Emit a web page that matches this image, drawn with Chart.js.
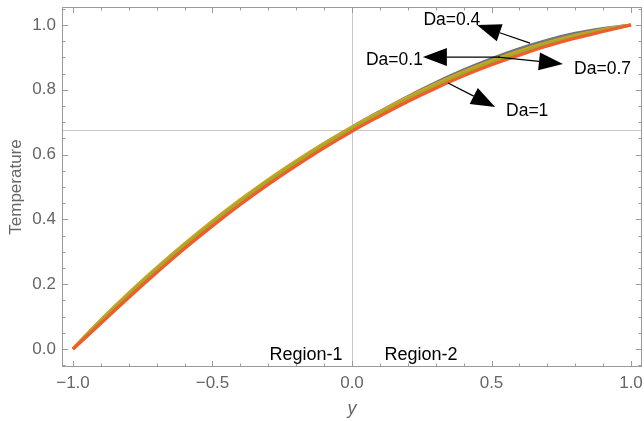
<!DOCTYPE html>
<html>
<head>
<meta charset="utf-8">
<script src="https://cdn.jsdelivr.net/npm/chart.js@4/dist/chart.umd.min.js"></script>
<style>
  body { margin: 0; background: #fff; }
  canvas { display: block; }
</style>
</head>
<body>
<canvas id="grafico" width="644" height="421"></canvas>
<script>
// Posiciones y (eje horizontal)
const posY = [-1, -0.9, -0.8, -0.7, -0.6, -0.5, -0.4, -0.3, -0.2, -0.1, 0,
              0.1, 0.2, 0.3, 0.4, 0.5, 0.6, 0.7, 0.8, 0.9, 1];

// Temperatura para cada Da
const tempDa01 = [0, 0.088, 0.171, 0.249, 0.323, 0.393, 0.459, 0.521, 0.579, 0.634, 0.685,
                  0.733, 0.779, 0.822, 0.861, 0.896, 0.927, 0.953, 0.974, 0.989, 1.0];
const tempDa04 = [0, 0.090, 0.173, 0.251, 0.325, 0.395, 0.461, 0.523, 0.581, 0.635, 0.685,
                  0.732, 0.777, 0.818, 0.856, 0.890, 0.920, 0.946, 0.968, 0.986, 1.0];
const tempDa07 = [0, 0.086, 0.168, 0.246, 0.320, 0.390, 0.456, 0.518, 0.576, 0.630, 0.680,
                  0.727, 0.772, 0.813, 0.851, 0.885, 0.915, 0.942, 0.965, 0.984, 1.0];
const tempDa1  = [0, 0.079, 0.159, 0.236, 0.310, 0.380, 0.446, 0.508, 0.566, 0.621, 0.672,
                  0.719, 0.764, 0.805, 0.843, 0.877, 0.907, 0.935, 0.959, 0.980, 1.0];

const ticksX = [-1, -0.5, 0, 0.5, 1];
const ticksT = [0, 0.2, 0.4, 0.6, 0.8, 1.0];

// Líneas guía
const guiaX = 0;
const guiaT = 0.677;

// Etiquetas con flecha: [texto, xTexto, tTexto, alineación, xCola, tCola, xPunta, tPunta]
const flechas = [
  ['Da=0.4', 0.358, 1.015, 'center', 0.638, 0.944, 0.448, 1.000],
  ['Da=0.1', 0.254, 0.892, 'right',  0.530, 0.901, 0.254, 0.901],
  ['Da=0.7', 0.796, 0.864, 'left',   0.523, 0.901, 0.756, 0.880],
  ['Da=1',   0.552, 0.735, 'left',   0.344, 0.821, 0.513, 0.747]
];
const regiones = [['Region-1', -0.165, -0.019], ['Region-2', 0.247, -0.019]];

const puntos = arr => posY.map((y, i) => ({ x: y, y: arr[i] }));
const fmt = v => (v < 0 ? '\u2212' : '') + Math.abs(v).toFixed(1);
const fuente = '"Liberation Sans", Arial, sans-serif';

const marco = {
  id: 'marco',
  beforeDatasetsDraw(chart) {
    const { ctx, chartArea: a, scales: { x, y } } = chart;
    ctx.save();
    // líneas guía
    ctx.strokeStyle = '#c8c8c8';
    ctx.lineWidth = 1;
    ctx.beginPath();
    const gx = Math.round(x.getPixelForValue(guiaX)) + 0.5;
    const gy = Math.round(y.getPixelForValue(guiaT)) + 0.5;
    ctx.moveTo(gx, a.top); ctx.lineTo(gx, a.bottom);
    ctx.moveTo(a.left, gy); ctx.lineTo(a.right, gy);
    ctx.stroke();
    ctx.restore();
  },
  afterDatasetsDraw(chart) {
    const { ctx, chartArea: a, scales: { x, y } } = chart;
    ctx.save();
    // marco y marcas
    ctx.strokeStyle = '#9a9a9a';
    ctx.lineWidth = 1;
    ctx.strokeRect(a.left + 0.5, a.top + 0.5, a.right - a.left - 1, a.bottom - a.top - 1);
    ctx.beginPath();
    for (let i = -10; i <= 10; i++) {
      const px = Math.round(x.getPixelForValue(i / 10)) + 0.5;
      const len = i % 5 === 0 ? 6 : 3.5;
      ctx.moveTo(px, a.bottom); ctx.lineTo(px, a.bottom - len);
      ctx.moveTo(px, a.top); ctx.lineTo(px, a.top + len);
    }
    for (let i = -1; i <= 21; i++) {
      const py = Math.round(y.getPixelForValue(i / 20)) + 0.5;
      const len = i % 4 === 0 ? 6 : 3.5;
      ctx.moveTo(a.left, py); ctx.lineTo(a.left + len, py);
      ctx.moveTo(a.right, py); ctx.lineTo(a.right - len, py);
    }
    ctx.stroke();

    // etiquetas de marcas
    ctx.fillStyle = '#666';
    ctx.font = '17px ' + fuente;
    ctx.textBaseline = 'middle';
    ctx.textAlign = 'center';
    ticksX.forEach(v => ctx.fillText(fmt(v), x.getPixelForValue(v), a.bottom + 16));
    ctx.textAlign = 'right';
    ticksT.forEach(v => ctx.fillText(fmt(v), a.left - 6, y.getPixelForValue(v)));

    // flechas y etiquetas
    ctx.fillStyle = '#000';
    ctx.strokeStyle = '#000';
    ctx.font = '17.5px ' + fuente;
    flechas.forEach(([txt, tx, tt, al, x0, t0, x1, t1]) => {
      const ax = x.getPixelForValue(x0), ay = y.getPixelForValue(t0);
      const bx = x.getPixelForValue(x1), by = y.getPixelForValue(t1);
      const ang = Math.atan2(by - ay, bx - ax);
      const largo = 24, ancho = 9;
      const cx = bx - largo * Math.cos(ang), cy = by - largo * Math.sin(ang);
      ctx.lineWidth = 1.2;
      ctx.beginPath();
      ctx.moveTo(ax, ay); ctx.lineTo(cx, cy);
      ctx.stroke();
      ctx.beginPath();
      ctx.moveTo(bx, by);
      ctx.lineTo(cx + ancho * Math.sin(ang), cy - ancho * Math.cos(ang));
      ctx.lineTo(cx - ancho * Math.sin(ang), cy + ancho * Math.cos(ang));
      ctx.closePath();
      ctx.fill();
      ctx.textAlign = al;
      ctx.fillText(txt, x.getPixelForValue(tx), y.getPixelForValue(tt));
    });

    ctx.font = '18px ' + fuente;
    ctx.textAlign = 'center';
    regiones.forEach(([txt, rx, rt]) => {
      ctx.fillText(txt, x.getPixelForValue(rx), y.getPixelForValue(rt));
    });

    // títulos de ejes
    ctx.fillStyle = '#666';
    ctx.font = 'italic 18px ' + fuente;
    ctx.fillText('y', x.getPixelForValue(0), a.bottom + 42);
    ctx.font = '17px ' + fuente;
    ctx.translate(16, 187);
    ctx.rotate(-Math.PI / 2);
    ctx.fillText('Temperature', 0, 0);
    ctx.restore();
  }
};

const serie = (label, data, color, orden) => ({
  label, data: puntos(data), borderColor: color, borderWidth: 3.2,
  pointRadius: 0, tension: 0.4, fill: false, order: orden
});

new Chart(document.getElementById('grafico'), {
  type: 'line',
  data: {
    datasets: [
      serie('Da=0.1', tempDa01, '#70767c', 4),
      serie('Da=0.4', tempDa04, '#dca21e', 3),
      serie('Da=0.7', tempDa07, '#9fac2c', 2),
      serie('Da=1',   tempDa1,  '#f05d2a', 1)
    ]
  },
  options: {
    responsive: false,
    animation: false,
    layout: { padding: { top: 7, right: 2, left: 0, bottom: 0 } },
    plugins: { legend: { display: false }, tooltip: { enabled: false } },
    scales: {
      x: {
        type: 'linear', min: -1.0394, max: 1.0394,
        afterFit: s => { s.height = 54; },
        grid: { display: false }, border: { display: false },
        ticks: { display: false }
      },
      y: {
        type: 'linear', min: -0.0556, max: 1.0556,
        afterFit: s => { s.width = 62; },
        grid: { display: false }, border: { display: false },
        ticks: { display: false }
      }
    }
  },
  plugins: [marco]
});
</script>
</body>
</html>
